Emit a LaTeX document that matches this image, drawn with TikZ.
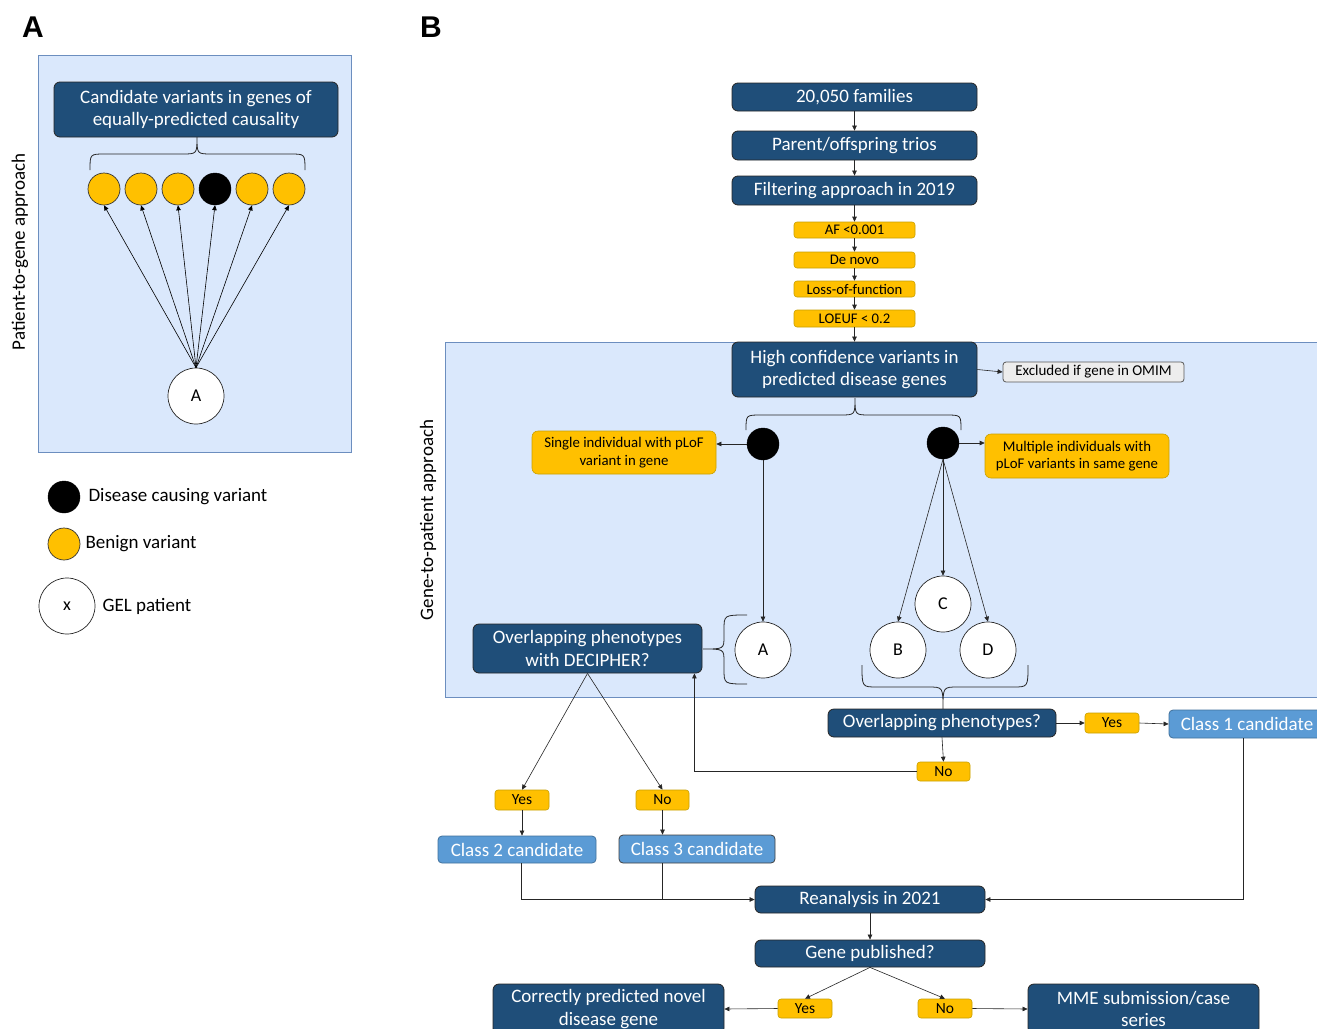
\documentclass[tikz,border=0pt]{standalone}
\usepackage{fontspec}
\setmainfont{Carlito}
\newfontfamily\labfont{Liberation Sans}
\usetikzlibrary{arrows.meta,positioning,calc}
\definecolor{dblue}{HTML}{1F4E79}
\definecolor{lblue}{HTML}{DAE8FC}
\definecolor{lborder}{HTML}{6C8EBF}
\definecolor{gold}{HTML}{FFC000}
\definecolor{goldb}{HTML}{C9A000}
\definecolor{cblue}{HTML}{5B9BD5}
\definecolor{cblueb}{HTML}{41719C}
\definecolor{exgrey}{HTML}{EDEDED}
\tikzset{
  fs/.style={font=\fontsize{#1}{\fpeval{#1*1.17}}\selectfont},
  darkbox/.style={rectangle, rounded corners=6pt, fill=dblue, draw=black!85, line width=0.8pt, text=white, inner sep=0pt, align=center, fs=19},
  goldbox/.style={rectangle, rounded corners=3pt, fill=gold, draw=goldb, line width=0.6pt, text=black, inner sep=0pt, align=center, fs=14.7},
  classbox/.style={rectangle, rounded corners=4pt, fill=cblue, draw=cblueb, line width=0.8pt, text=white, inner sep=0pt, align=center, fs=19},
  goldc/.style={circle, fill=gold, draw=black!80, line width=0.7pt, minimum size=32pt, inner sep=0pt},
  blackc/.style={circle, fill=black, draw=black, minimum size=32pt, inner sep=0pt},
  patc/.style={circle, fill=white, draw=black!85, line width=0.7pt, minimum size=56pt, inner sep=0pt, fs=18},
  arr/.style={-{Triangle[length=5pt,width=4.5pt]}, line width=0.6pt, draw=black!85},
  ln/.style={line width=0.6pt, draw=black!85},
  region/.style={fill=lblue, draw=lborder, line width=0.8pt},
  brace/.style={line width=0.8pt, draw=black!85},
  yn/.style={goldbox, fs=15.5, minimum width=54pt},
}
\begin{document}
\begin{tikzpicture}[x=1pt,y=-1pt]
\useasboundingbox (0,0) rectangle (1317,1028);
\clip (0,0) rectangle (1317,1028);
\fill[white] (0,0) rectangle (1317,1028);

% ---------- Panel A ----------
\node[font=\labfont\bfseries\fontsize{30}{30}\selectfont] (labA) at (33,27) {A};
\draw[region] (38,55) rectangle (351,452);
\node[rotate=90, fs=19] (pga) at (20,252) {Patient-to-gene approach};
\node[darkbox, minimum width=284pt, minimum height=55pt] (cand) at (196,109.5) {Candidate variants in genes of\\equally-predicted causality};
\draw[brace] (90,170) .. controls (90,154) .. (105,154) -- (182,154) .. controls (197,154) .. (197,137)
  .. controls (197,154) .. (212,154) -- (290,154) .. controls (305,154) .. (305,170);
\node[goldc] (v1) at (104,189) {};
\node[goldc] (v2) at (141,189) {};
\node[goldc] (v3) at (178,189) {};
\node[blackc] (v4) at (215,189) {};
\node[goldc] (v5) at (252,189) {};
\node[goldc] (v6) at (289,189) {};
\node[patc] (pa) at (196,396) {A};
\foreach \v in {v1,v2,v3,v4,v5,v6} \draw[arr,draw=black] (pa.north) -- (\v.south);

% legend
\node[blackc] (lgb) at (64,497) {};
\node[anchor=west, fs=19] (lgbt) at (85,497) {Disease causing variant};
\node[goldc] (lgg) at (64,544) {};
\node[anchor=west, fs=19] (lggt) at (82,544) {Benign variant};
\node[patc] (lgp) at (67,606) {x};
\node[anchor=west, fs=19] (lgpt) at (99,606) {GEL patient};

% ---------- Panel B ----------
\node[font=\labfont\bfseries\fontsize{30}{30}\selectfont] (labB) at (431,27) {B};
\draw[region] (445,342) rectangle (1330,697);
\node[rotate=90, fs=19] (gpa) at (428,520) {Gene-to-patient approach};

\node[darkbox, minimum width=245pt, minimum height=28pt] (fam) at (854.5,97) {20,050 families};
\node[darkbox, minimum width=245pt, minimum height=29pt] (trios) at (854.5,145.5) {Parent/offspring trios};
\node[darkbox, minimum width=245pt, minimum height=29pt] (filt) at (854.5,190.5) {Filtering approach in 2019};
\node[goldbox, minimum width=121pt, minimum height=16pt] (af) at (854.5,230) {AF <0.001};
\node[goldbox, minimum width=121pt, minimum height=16pt] (den) at (854.5,260) {De novo};
\node[goldbox, minimum width=121pt, minimum height=16pt] (lof) at (854.5,289) {Loss-of-function};
\node[goldbox, minimum width=121pt, minimum height=17pt] (loeuf) at (854.5,318.5) {LOEUF < 0.2};
\node[darkbox, minimum width=245pt, minimum height=55pt] (hc) at (854.5,369.5) {High confidence variants in\\predicted disease genes};
\node[rectangle, rounded corners=3pt, fill=exgrey, draw=black!65, line width=0.8pt, inner sep=0pt, minimum width=181pt, minimum height=20pt, fs=15] (excl) at (1093.5,372) {Excluded if gene in OMIM};

\draw[arr] (fam) -- (trios);
\draw[arr] (trios) -- (filt);
\draw[arr] (filt) -- (af);
\draw[arr] (af) -- (den);
\draw[arr] (den) -- (lof);
\draw[arr] (lof) -- (loeuf);
\draw[arr] (loeuf) -- (hc);
\draw[arr] (hc.east) -- (excl.west);

\draw[brace] (746,430) .. controls (746,415) .. (761,415) -- (840,415) .. controls (855,415) .. (855,398)
  .. controls (855,415) .. (870,415) -- (946,415) .. controls (961,415) .. (961,430);

\node[blackc] (bl) at (763,444) {};
\node[blackc] (br) at (943,443) {};
\node[goldbox, minimum width=184pt, minimum height=43pt, rounded corners=6pt, fs=14.8] (single) at (624,452.5) {Single individual with pLoF\\variant in gene};
\node[goldbox, minimum width=184pt, minimum height=44pt, rounded corners=6pt, fs=14.8] (multi) at (1077,456) {Multiple individuals with\\pLoF variants in same gene};
\draw[arr] (bl.west) -- (bl.west -| single.east);
\draw[arr] (br.east) -- (br.east -| multi.west);

\node[patc] (nA) at (763,650) {A};
\node[patc] (nC) at (943,604) {C};
\node[patc] (nB) at (898,650) {B};
\node[patc] (nD) at (988,650) {D};
\draw[arr] (bl.south) -- (nA.north);
\draw[arr] (br.south) -- (nC.north);
\draw[arr] (br.south) -- (nB.north);
\draw[arr] (br.south) -- (nD.north);

\node[darkbox, minimum width=229pt, minimum height=49pt] (dec) at (587.5,648.5) {Overlapping phenotypes\\with DECIPHER?};
\draw[brace] (747,615) .. controls (724,615) .. (724,630) -- (724,636) .. controls (724,649) .. (703,649)
  .. controls (724,649) .. (724,662) -- (724,669) .. controls (724,684) .. (747,684);

\draw[brace] (862,665) .. controls (862,687) .. (877,687) -- (928,687) .. controls (943,687) .. (943,709)
  .. controls (943,687) .. (958,687) -- (1013,687) .. controls (1028,687) .. (1028,665);

\node[darkbox, minimum width=228pt, minimum height=28pt] (ovl) at (942,723) {Overlapping phenotypes?};
\node[yn, minimum height=20pt] (yes1) at (1112,723) {Yes};
\node[classbox, minimum width=156pt, minimum height=28pt] (cls1) at (1247,724) {Class 1 candidate};
\node[yn, minimum width=53pt, minimum height=19pt] (no1) at (943.5,771.5) {No};
\draw[arr] (ovl.east) -- (yes1.west);
\draw[arr] (yes1.east) -- (cls1.west);
\draw[arr] (ovl.south) -- (no1.north);
\draw[arr] (no1.west) -| ([xshift=-8pt]dec.south east);

\node[yn, minimum height=20pt] (yes2) at (522,800) {Yes};
\node[yn, minimum width=53pt, minimum height=20pt] (no2) at (662.5,800) {No};
\draw[arr] (dec.south) -- (yes2.north);
\draw[arr] (dec.south) -- (no2.north);

\node[classbox, minimum width=158pt, minimum height=27pt] (cls2) at (517,849.5) {Class 2 candidate};
\node[classbox, minimum width=156pt, minimum height=28pt, draw=black!75] (cls3) at (697,849) {Class 3 candidate};
\draw[arr] (yes2.south) -- (cls2.north -| yes2.south);
\draw[arr] (no2.south) -- (cls3.north -| no2.south);

\node[darkbox, minimum width=230pt, minimum height=27pt] (rean) at (870,899.5) {Reanalysis in 2021};
\node[darkbox, minimum width=230pt, minimum height=27pt] (gpub) at (870,953.5) {Gene published?};
\draw[arr] ([xshift=4pt]cls2.south) |- (rean.west);
\draw[ln] (cls3.south -| no2.south) -- (no2.south |- rean.west);
\draw[arr] ([xshift=-4pt]cls1.south) |- (rean.east);
\draw[arr] (rean) -- (gpub);

\node[yn, minimum height=19pt] (yes3) at (805,1008.5) {Yes};
\node[yn, minimum height=19pt] (no3) at (945,1008.5) {No};
\draw[arr] (gpub.south) -- (yes3.north);
\draw[arr] (gpub.south) -- (no3.north);

\node[darkbox, minimum width=231pt, minimum height=50pt] (corr) at (608.5,1009) {Correctly predicted novel\\disease gene};
\node[darkbox, minimum width=231pt, minimum height=50pt] (mme) at (1143.5,1009) {MME submission/case\\series};
\draw[arr] (yes3.west) -- (corr.east);
\draw[arr] (no3.east) -- (mme.west);
\end{tikzpicture}
\end{document}
